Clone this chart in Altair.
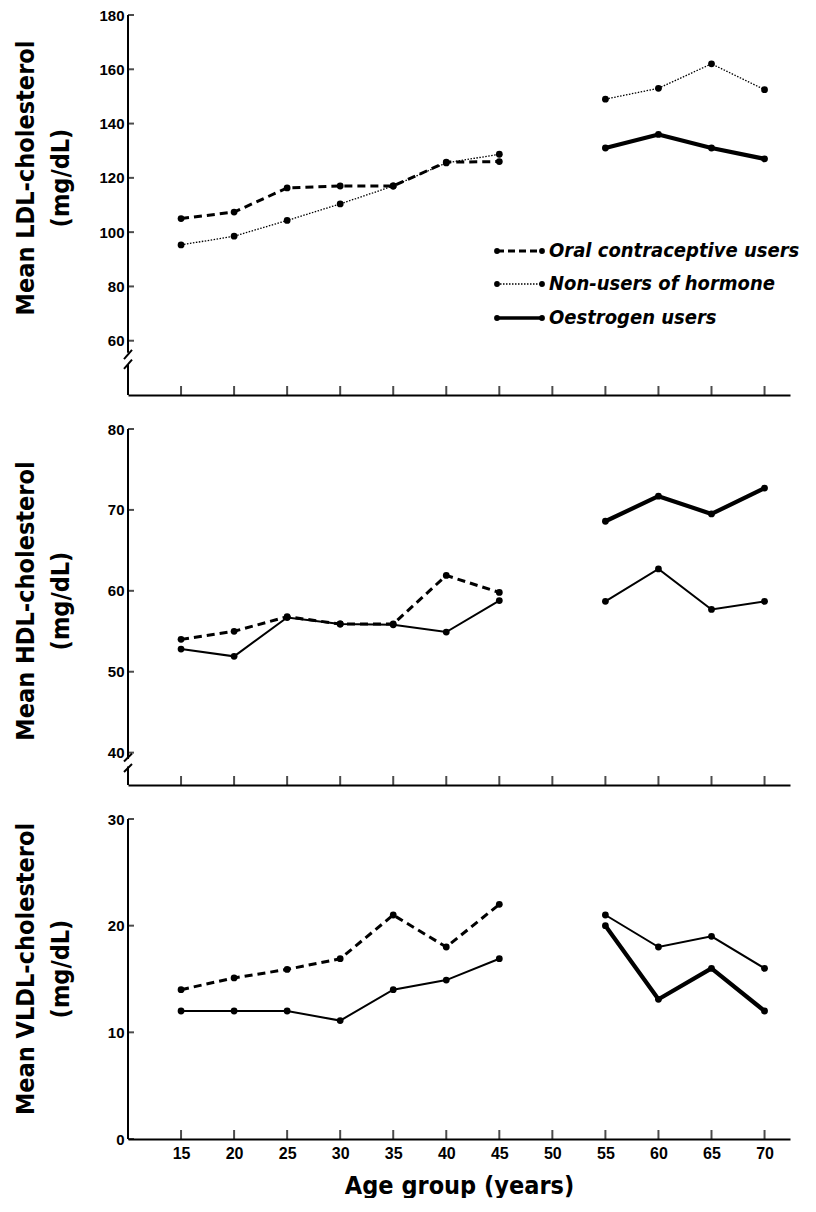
import altair as alt
import pandas as pd

# ---------------- data ----------------
ages_young = [15, 20, 25, 30, 35, 40, 45]
ages_old = [55, 60, 65, 70]
x_tick_values = [15, 20, 25, 30, 35, 40, 45, 50, 55, 60, 65, 70]

ldl_oral = [105, 107.4, 116.3, 117, 117, 125.8, 126]
ldl_non_young = [95.3, 98.5, 104.3, 110.4, 117, 125.5, 128.7]
ldl_non_old = [149, 153, 162, 152.5]
ldl_oes = [131, 136, 131, 127]

hdl_oral = [54, 55, 56.8, 55.9, 55.9, 61.9, 59.8]
hdl_non_young = [52.8, 51.9, 56.7, 55.9, 55.8, 54.9, 58.8]
hdl_non_old = [58.7, 62.7, 57.7, 58.7]
hdl_oes = [68.6, 71.7, 69.5, 72.7]

vldl_oral = [14, 15.1, 15.9, 16.9, 21, 18, 22]
vldl_non_young = [12, 12, 12, 11.1, 14, 14.9, 16.9]
vldl_non_old = [21, 18, 19, 16]
vldl_oes = [20, 13.1, 16, 12]

ldl_ticks = [60, 80, 100, 120, 140, 160, 180]
hdl_ticks = [40, 50, 60, 70, 80]
vldl_ticks = [0, 10, 20, 30]

series_names = ["Oral contraceptive users", "Non-users of hormone", "Oestrogen users"]

# ---------------- style ----------------
COND = "DejaVu Sans Condensed, Liberation Sans Narrow, Roboto Condensed, sans-serif"
SANS = "Liberation Sans, Arial, sans-serif"
X_DOMAIN = [10, 72.4]
W = 662


def one():
    return pd.DataFrame({"k": [0]})


def make_panel(lo, hi, h, yticks, oral, non_y, non_o, oes, non_style,
               title1, title_y, axis_segments, slashes, show_x, legend):
    rows = []
    for a, v in zip(ages_young, oral):
        rows.append(dict(age=a, value=v, series=series_names[0], period="young"))
    for a, v in zip(ages_young, non_y):
        rows.append(dict(age=a, value=v, series=series_names[1], period="young"))
    for a, v in zip(ages_old, non_o):
        rows.append(dict(age=a, value=v, series=series_names[1], period="old"))
    for a, v in zip(ages_old, oes):
        rows.append(dict(age=a, value=v, series=series_names[2], period="old"))
    df = pd.DataFrame(rows)

    xscale = alt.Scale(domain=X_DOMAIN, nice=False, zero=False)
    yscale = alt.Scale(domain=[lo, hi], nice=False, zero=False)
    if show_x:
        xaxis = alt.Axis(values=x_tick_values, ticks=False, tickSize=0, domain=True,
                         domainWidth=2, domainColor="black", grid=False,
                         labelFont=SANS, labelFontSize=16, labelFontWeight="bold",
                         labelColor="black", labelPadding=6, labelFlush=False,
                         title="Age group (years)", titleFont=COND, titleFontSize=25,
                         titleFontWeight="bold", titleColor="black", titlePadding=12)
    else:
        xaxis = alt.Axis(values=x_tick_values, labels=False, ticks=False, tickSize=0,
                         domain=True, domainWidth=2, domainColor="black", grid=False,
                         title=None)
    yaxis = alt.Axis(values=yticks, domain=False, ticks=False, tickSize=0, grid=False,
                     labelFont=SANS, labelFontSize=15, labelFontWeight="bold",
                     labelColor="black", labelPadding=4, labelFlush=False, title=None)

    def X(f="age"):
        return alt.X(f"{f}:Q", scale=xscale, axis=xaxis)

    def Y(f="value"):
        return alt.Y(f"{f}:Q", scale=yscale, axis=yaxis)

    layers = []
    # oral contraceptive users (dashed)
    layers.append(alt.Chart(df[df.series == series_names[0]]).mark_line(
        color="black", strokeWidth=3, strokeDash=[8, 5], strokeCap="butt"
    ).encode(x=X(), y=Y(), detail="period:N"))
    # non-users
    layers.append(alt.Chart(df[df.series == series_names[1]]).mark_line(
        color="black", **non_style
    ).encode(x=X(), y=Y(), detail="period:N"))
    # oestrogen users
    layers.append(alt.Chart(df[df.series == series_names[2]]).mark_line(
        color="black", strokeWidth=4.2, strokeCap="round", strokeJoin="round"
    ).encode(x=X(), y=Y(), detail="period:N"))
    # points
    layers.append(alt.Chart(df).mark_circle(color="black", opacity=1, size=46).encode(x=X(), y=Y()))

    # inward x ticks
    layers.append(alt.Chart(pd.DataFrame({"age": x_tick_values})).mark_tick(
        color="black", orient="vertical", size=9, thickness=2
    ).encode(x=X(), y=alt.value(h - 4.5)))
    # inward y ticks
    layers.append(alt.Chart(pd.DataFrame({"value": yticks})).mark_tick(
        color="black", orient="horizontal", size=6, thickness=2
    ).encode(y=Y(), x=alt.value(3)))
    # y axis line (with break)
    seg = pd.DataFrame({"value": [a for a, b in axis_segments],
                        "value2": [b for a, b in axis_segments]})
    layers.append(alt.Chart(seg).mark_rule(color="black", strokeWidth=2).encode(
        x=alt.value(0), y=Y(), y2="value2:Q"))
    if slashes:
        sl = pd.DataFrame({"value": [a for a, b in slashes],
                           "value2": [b for a, b in slashes]})
        layers.append(alt.Chart(sl).mark_rule(color="black", strokeWidth=2).encode(
            x=alt.value(-4), x2=alt.value(4), y=Y(), y2="value2:Q"))
    # y title (two lines)
    for txt, xx in ((title1, -102), ("(mg/dL)", -67)):
        layers.append(alt.Chart(one()).mark_text(
            angle=270, font=COND, fontSize=25, fontWeight="bold", align="center",
            baseline="middle", color="black"
        ).encode(x=alt.value(xx), y=alt.value(title_y), text=alt.value(txt)))

    if legend:
        styles = [
            dict(strokeWidth=3, strokeDash=[7, 4], strokeCap="butt"),
            dict(strokeWidth=1.3, strokeDash=[1.5, 1.5]),
            dict(strokeWidth=3.5),
        ]
        rows_y = [236, 269, 303]
        for name, st, yy in zip(series_names, styles, rows_y):
            layers.append(alt.Chart(one()).mark_rule(color="black", **st).encode(
                x=alt.value(369), x2=alt.value(414), y=alt.value(yy)))
            for xx in (369, 414):
                layers.append(alt.Chart(one()).mark_circle(color="black", opacity=1, size=34).encode(
                    x=alt.value(xx), y=alt.value(yy)))
            layers.append(alt.Chart(one()).mark_text(
                font=COND, fontSize=20, fontStyle="italic", fontWeight="bold",
                align="left", baseline="middle", color="black"
            ).encode(x=alt.value(421), y=alt.value(yy), text=alt.value(name)))

    return alt.layer(*layers).properties(width=W, height=h)


top = make_panel(40, 180, 380, ldl_ticks, ldl_oral, ldl_non_young, ldl_non_old, ldl_oes,
                 dict(strokeWidth=1.3, strokeDash=[1.5, 1.5]),
                 "Mean LDL-cholesterol", 163,
                 [(180, 55.6), (51.3, 40)], [(53.2, 56.6), (49.6, 53.0)],
                 False, True)
mid = make_panel(36, 80, 356, hdl_ticks, hdl_oral, hdl_non_young, hdl_non_old, hdl_oes,
                 dict(strokeWidth=2),
                 "Mean HDL-cholesterol", 172,
                 [(80, 39.2), (38.3, 36)], [(38.9, 39.9), (37.6, 38.6)],
                 False, False)
bot = make_panel(0, 30, 320, vldl_ticks, vldl_oral, vldl_non_young, vldl_non_old, vldl_oes,
                 dict(strokeWidth=2),
                 "Mean VLDL-cholesterol", 150,
                 [(30, 0)], [],
                 True, False)

chart = alt.vconcat(top, mid, bot, spacing=26).properties(
    padding={"left": 6, "top": 0, "right": 0, "bottom": 0}
).configure_view(stroke=None)

chart.save("out.html", embed_options={"renderer": "svg", "actions": False})
